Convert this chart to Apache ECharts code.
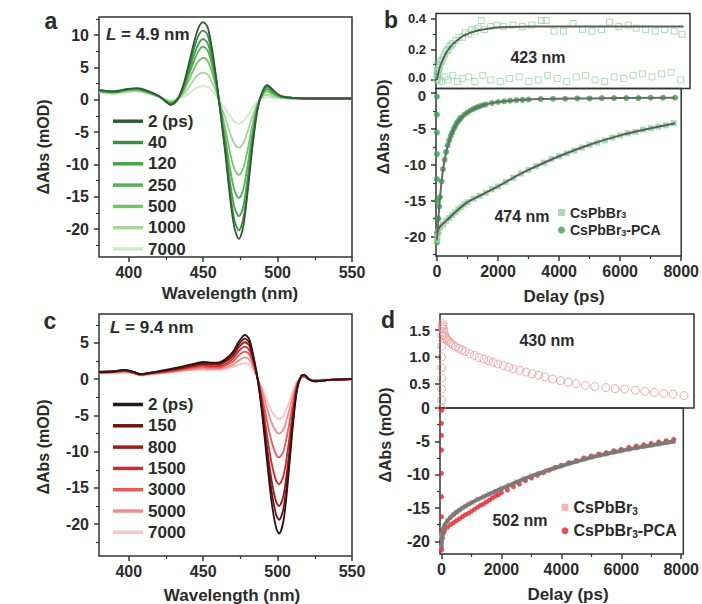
<!DOCTYPE html>
<html><head><meta charset="utf-8">
<script src="https://cdn.jsdelivr.net/npm/echarts@6/dist/echarts.min.js"></script>
<style>html,body{margin:0;padding:0;background:#fff}#c{width:702px;height:604px}</style>
</head><body><div id="c"></div>
<script>
// ---------- Panel a: spectra (L = 4.9 nm) ----------
const wlA = [380,390,400,405,410,420,425,428,432,436,440,444,447,450,453,456,459,462,465,468,471,474,477,480,483,486,489,493,497,502,510,520,535,550];
const a2    = [1.5,1.3,1.7,1.8,1.6,0.6,-0.3,-0.8,-0.2,1.8,5.2,9.0,11.2,12.0,11.2,7.8,3.0,-2.8,-8.5,-15.0,-19.8,-21.5,-19.5,-14.0,-7.5,-2.2,0.8,2.3,1.5,0.6,0.3,0.2,0.2,0.2];
const a40   = [1.5,1.3,1.7,1.7,1.5,0.6,-0.3,-0.7,-0.2,1.6,4.6,8.0,10.0,10.7,10.0,6.9,2.7,-2.6,-8.0,-14.1,-18.6,-20.2,-18.3,-13.2,-7.1,-2.1,0.7,2.1,1.4,0.6,0.3,0.2,0.2,0.2];
const a120  = [1.4,1.2,1.6,1.7,1.5,0.6,-0.2,-0.6,-0.1,1.4,4.1,7.0,8.7,9.4,8.7,6.1,2.3,-2.4,-7.1,-12.6,-16.6,-18.0,-16.4,-11.8,-6.3,-1.8,0.6,1.9,1.2,0.5,0.3,0.2,0.2,0.2];
const a250  = [1.4,1.2,1.6,1.6,1.4,0.6,-0.2,-0.5,-0.1,1.2,3.6,6.1,7.6,8.2,7.6,5.3,2.0,-2.0,-6.0,-10.6,-14.0,-15.2,-13.8,-9.9,-5.3,-1.6,0.5,1.6,1.0,0.5,0.3,0.2,0.2,0.2];
const a500  = [1.3,1.1,1.5,1.5,1.3,0.5,-0.1,-0.4,0.0,1.0,2.8,4.9,6.0,6.5,6.0,4.2,1.6,-1.5,-4.6,-8.1,-10.7,-11.6,-10.5,-7.6,-4.0,-1.2,0.4,1.3,0.8,0.4,0.2,0.2,0.2,0.2];
const a1000 = [1.2,1.0,1.3,1.4,1.2,0.5,0.0,-0.3,0.0,0.7,1.8,3.2,3.9,4.2,3.9,2.7,1.0,-1.0,-2.9,-5.1,-6.8,-7.4,-6.7,-4.8,-2.6,-0.8,0.3,0.8,0.5,0.3,0.2,0.2,0.2,0.2];
const a7000 = [1.1,0.9,1.2,1.3,1.1,0.5,0.1,-0.1,0.1,0.4,0.9,1.6,2.0,2.1,2.0,1.4,0.5,-0.5,-1.4,-2.5,-3.4,-3.7,-3.3,-2.4,-1.3,-0.4,0.1,0.4,0.3,0.2,0.2,0.2,0.2,0.2];
const aNames = ['2 (ps)','40','120','250','500','1000','7000'];
const aColors = ['#2f5a36','#3c8c45','#45a349','#55b255','#76c36c','#a3d697','#d0e9ca'];

// ---------- Panel c: spectra (L = 9.4 nm) ----------
const wlC = [380,390,397,403,408,415,425,435,445,450,455,460,465,470,474,478,481,484,487,490,493,496,499,501,504,507,510,513,516,518,521,525,535,550];
const c2    = [1.0,1.1,1.3,1.0,0.7,0.9,1.3,1.7,2.2,2.4,2.3,2.3,2.8,3.8,5.2,6.1,5.5,3.0,-0.5,-5.5,-11.5,-17.0,-20.5,-21.3,-19.5,-14.0,-7.0,-1.5,0.5,0.6,0.0,-0.3,-0.1,0.0];
const c150  = [1.0,1.1,1.3,1.0,0.7,0.9,1.2,1.6,2.1,2.2,2.2,2.2,2.6,3.5,4.8,5.6,5.0,2.7,-0.5,-5.0,-10.5,-15.5,-18.7,-19.4,-17.8,-12.8,-6.4,-1.4,0.5,0.6,0.0,-0.3,-0.1,0.0];
const c800  = [1.0,1.0,1.2,1.0,0.7,0.9,1.2,1.5,1.9,2.1,2.0,2.0,2.4,3.2,4.4,5.1,4.6,2.5,-0.4,-4.5,-9.5,-14.0,-16.9,-17.5,-16.0,-11.5,-5.8,-1.2,0.4,0.5,0.0,-0.3,-0.1,0.0];
const c1500 = [0.9,1.0,1.2,0.9,0.6,0.8,1.1,1.4,1.8,1.9,1.8,1.8,2.1,2.8,3.9,4.5,4.0,2.2,-0.3,-3.7,-7.9,-11.6,-14.0,-14.5,-13.3,-9.5,-4.8,-1.0,0.4,0.5,0.0,-0.2,-0.1,0.0];
const c3000 = [0.9,1.0,1.1,0.9,0.6,0.8,1.0,1.3,1.6,1.7,1.6,1.6,1.9,2.4,3.3,3.8,3.4,1.9,-0.2,-2.8,-5.9,-8.6,-10.4,-10.8,-9.9,-7.1,-3.6,-0.8,0.3,0.4,0.0,-0.2,-0.1,0.0];
const c5000 = [0.8,0.9,1.0,0.8,0.6,0.7,0.9,1.2,1.4,1.5,1.4,1.4,1.6,2.0,2.6,3.0,2.7,1.5,-0.1,-1.9,-4.1,-6.0,-7.2,-7.5,-6.9,-4.9,-2.5,-0.5,0.3,0.3,0.0,-0.2,-0.1,0.0];
const c7000 = [0.8,0.8,0.9,0.8,0.5,0.7,0.9,1.1,1.3,1.3,1.3,1.3,1.4,1.7,2.0,2.2,2.0,1.1,-0.1,-1.4,-3.0,-4.4,-5.3,-5.5,-5.0,-3.6,-1.8,-0.4,0.2,0.3,0.0,-0.1,0.0,0.0];
const cNames = ['2 (ps)','150','800','1500','3000','5000','7000'];
const cColors = ['#2a1515','#6b1414','#a11a1a','#d42a2a','#e65a5a','#f08d8d','#f6c6c6'];

// ---------- Panel b: kinetics (green) ----------
const b423Cs = [[0,0.0],[0,0.05],[0,0.1],[15,0.03],[30,0.06],[50,0.07],[75,0.08],[100,0.1],[130,0.12],[160,0.13],[200,0.15],[250,0.17],[300,0.19],[350,0.2],[400,0.22],[450,0.23],[500,0.24],[600,0.26],[700,0.28],[800,0.28],[900,0.31],[1000,0.3],[1100,0.33],[1200,0.32],[1300,0.34],[1400,0.39],[1500,0.33],[1700,0.35],[1900,0.36],[2100,0.35],[2400,0.36],[2700,0.35],[3000,0.36],[3300,0.39],[3450,0.39],[3700,0.32],[4000,0.32],[4300,0.37],[4600,0.33],[4900,0.32],[5200,0.33],[5450,0.38],[5750,0.35],[6050,0.36],[6300,0.34],[6600,0.33],[6900,0.32],[7200,0.33],[7500,0.32],[7750,0.3]];
const b423Pca = [[0,0.01],[30,0.03],[80,0.0],[150,-0.01],[250,0.02],[350,0.0],[500,0.03],[650,-0.01],[800,0.01],[1000,0.02],[1200,-0.01],[1450,0.03],[1700,0.0],[2000,-0.01],[2300,0.01],[2600,0.02],[2900,-0.01],[3200,0.0],[3500,0.03],[3800,0.01],[4100,-0.01],[4400,0.02],[4700,0.03],[5000,0.0],[5300,-0.01],[5600,0.02],[5900,0.01],[6200,0.03],[6500,0.04],[6800,0.02],[7100,0.04],[7400,0.05],[7700,0.0]];
const b423Fit = [[0,0],[50,0.05],[100,0.09],[200,0.14],[300,0.18],[400,0.21],[500,0.235],[650,0.26],[800,0.285],[1000,0.305],[1200,0.32],[1500,0.333],[2000,0.345],[3000,0.35],[7800,0.35]];
const b474Cs = [[0,-20.5],[20,-20.0],[50,-19.3],[100,-18.7],[200,-18.3],[300,-17.8],[400,-17.4],[500,-17.0],[600,-16.6],[700,-16.2],[800,-15.9],[900,-15.5],[1000,-15.2],[1200,-14.7],[1400,-14.3],[1600,-13.9],[1800,-13.4],[2000,-13.0],[2250,-12.4],[2500,-11.8],[2750,-11.2],[3000,-10.7],[3250,-10.2],[3500,-9.7],[3750,-9.2],[4000,-8.8],[4250,-8.4],[4500,-8.0],[4750,-7.6],[5000,-7.2],[5250,-6.9],[5500,-6.6],[5750,-6.2],[6000,-5.9],[6250,-5.6],[6500,-5.4],[6750,-5.1],[7000,-4.9],[7250,-4.7],[7500,-4.5],[7750,-4.2]];
const b474CsFit = [[0,-19.5],[100,-18.6],[300,-17.8],[600,-16.6],[1000,-15.2],[1500,-14.1],[2000,-13.0],[2500,-11.8],[3000,-10.7],[4000,-8.8],[5000,-7.2],[6000,-5.9],[7000,-4.9],[7800,-4.2]];
const b474Pca = [[0,-0.5],[0,-3.0],[0,-5.5],[0,-8.5],[0,-12.0],[0,-15.0],[0,-17.5],[0,-19.5],[0,-20.8],[25,-19.5],[50,-17.5],[75,-15.8],[100,-14.5],[150,-12.3],[200,-10.6],[250,-9.3],[300,-8.2],[350,-7.3],[400,-6.6],[450,-6.0],[500,-5.5],[550,-5.0],[600,-4.6],[650,-4.2],[700,-3.9],[750,-3.6],[800,-3.4],[900,-3.0],[1000,-2.7],[1100,-2.4],[1200,-2.2],[1300,-2.0],[1400,-1.85],[1500,-1.7],[1600,-1.6],[1800,-1.4],[2000,-1.25],[2200,-1.15],[2400,-1.05],[2600,-1.0],[2800,-0.95],[3000,-0.9],[3400,-0.85],[3800,-0.8],[4200,-0.8],[4600,-0.75],[5000,-0.75],[5400,-0.7],[5800,-0.7],[6200,-0.7],[6600,-0.7],[7000,-0.65],[7400,-0.65],[7800,-0.65]];
const b474PcaFit = [[0,-20.5],[50,-17.5],[100,-14.6],[200,-10.7],[300,-8.3],[400,-6.7],[500,-5.5],[700,-3.9],[1000,-2.7],[1500,-1.7],[2000,-1.25],[3000,-0.9],[5000,-0.75],[7800,-0.65]];

// ---------- Panel d: kinetics (red) ----------
const d430Cs = [[0,0.05],[0,0.2],[0,0.4],[0,0.6],[0,0.8],[0,1.0],[0,1.2],[10,1.4],[20,1.55],[30,1.62],[40,1.58],[60,1.52],[80,1.46],[100,1.41],[130,1.37],[160,1.34],[200,1.31],[250,1.28],[300,1.25],[370,1.22],[450,1.19],[550,1.16],[650,1.13],[750,1.1],[900,1.06],[1050,1.03],[1200,0.99],[1350,0.96],[1500,0.93],[1650,0.9],[1800,0.87],[1975,0.84],[2150,0.81],[2300,0.78],[2500,0.75],[2700,0.72],[2900,0.69],[3100,0.66],[3300,0.63],[3550,0.59],[3800,0.56],[4050,0.53],[4300,0.5],[4600,0.47],[4900,0.45],[5250,0.43],[5550,0.41],[5850,0.4],[6200,0.38],[6500,0.36],[6800,0.34],[7100,0.32],[7400,0.31],[7750,0.28]];
const d502Cs = [[0,-21.0],[0,-19.5],[20,-19.0],[50,-18.3],[100,-17.6],[200,-16.9],[300,-16.4],[400,-16.0],[500,-15.6],[600,-15.3],[700,-15.0],[800,-14.7],[900,-14.4],[1000,-14.2],[1200,-13.7],[1400,-13.3],[1600,-12.9],[1800,-12.5],[2000,-12.1],[2250,-11.6],[2500,-11.1],[2750,-10.6],[3000,-10.2],[3250,-9.8],[3500,-9.4],[3750,-9.0],[4000,-8.7],[4250,-8.3],[4500,-8.0],[4750,-7.7],[5000,-7.4],[5250,-7.1],[5500,-6.9],[5750,-6.6],[6000,-6.4],[6250,-6.2],[6500,-6.0],[6750,-5.8],[7000,-5.6],[7250,-5.4],[7500,-5.2],[7750,-5.0]];
const d502CsFit = [[0,-21.0],[30,-19.0],[100,-17.6],[300,-16.4],[600,-15.3],[1000,-14.2],[1500,-13.1],[2000,-12.1],[3000,-10.2],[4000,-8.7],[5000,-7.4],[6000,-6.4],[7000,-5.6],[7800,-5.0]];
const d502Pca = [[0,-0.3],[0,-2.3],[0,-4.1],[0,-6.3],[0,-9.8],[0,-13.3],[0,-16.3],[0,-18.3],[0,-19.8],[0,-21.3],[30,-19.5],[60,-18.8],[100,-18.4],[200,-17.9],[300,-17.5],[400,-17.2],[500,-16.9],[600,-16.6],[700,-16.3],[800,-16.0],[900,-15.8],[1000,-15.5],[1100,-15.2],[1200,-14.9],[1300,-14.6],[1400,-14.4],[1500,-14.1],[1600,-13.8],[1700,-13.5],[1800,-13.2],[1900,-13.0],[2000,-12.7],[2200,-12.3],[2400,-11.8],[2600,-11.4],[2800,-10.9],[3000,-10.5],[3200,-10.1],[3400,-9.7],[3600,-9.3],[3800,-8.9],[4000,-8.6],[4250,-8.2],[4500,-7.9],[4750,-7.5],[5000,-7.2],[5250,-6.9],[5500,-6.7],[5750,-6.4],[6000,-6.2],[6250,-5.9],[6500,-5.7],[6750,-5.5],[7000,-5.3],[7250,-5.1],[7500,-4.9],[7750,-4.7]];

// ---------- tick values ----------
const wlMajor = [400,450,500,550], wlMinor = [425,475,525];
const tMajor = [0,2000,4000,6000,8000], tMinor = [1000,3000,5000,7000];
const aYMajor = [-20,-15,-10,-5,0,5,10], aYMinor = [-22.5,-17.5,-12.5,-7.5,-2.5,2.5,7.5,12.5];
const cYMajor = [-20,-15,-10,-5,0,5], cYMinor = [-22.5,-17.5,-12.5,-7.5,-2.5,2.5,7.5];
const bTopMajor = [0,0.2,0.4], bTopMinor = [0.1,0.3];
const bBotMajor = [-20,-15,-10,-5,0], bBotMinor = [-22.5,-17.5,-12.5,-7.5,-2.5];
const dTopMajor = [0.5,1.0,1.5];
const dBotMajor = [-20,-15,-10,-5,0], dBotMinor = [-17.5,-12.5,-7.5,-2.5];

// ---------- build ----------
const FONT = '"Liberation Sans", Arial, Helvetica, sans-serif';
const TXT = '#2b2b2b', AX = '#333';
const grids = [], xAxes = [], yAxes = [], series = [];
function addGrid(l, t, w, h) {
  grids.push({left:l, top:t, width:w, height:h, show:true, borderColor:AX, borderWidth:1.5, backgroundColor:'rgba(0,0,0,0)'});
  return grids.length - 1;
}
function addAxis(list, gi, pos, min, max, major, minor, opt) {
  opt = opt || {};
  const base = {type:'value', gridIndex:gi, position:pos, min:min, max:max, axisLine:{show:false, onZero:false}, splitLine:{show:false}};
  const idx = list.length;
  const lab = {show:!opt.noLabel, customValues:major, margin:opt.margin || 9, fontFamily:FONT, fontSize:opt.size || 16, fontWeight:'bold', color:TXT,
               formatter: opt.fmt || (v => String(v))};
  if (opt.lh) lab.lineHeight = opt.lh;
  if (opt.rich) lab.rich = opt.rich;
  list.push(Object.assign({}, base, {
    show: !opt.hidden,
    axisTick:{show:!opt.hidden, customValues:major, length:5, lineStyle:{color:AX, width:1.5}},
    axisLabel: lab
  }));
  if (minor && minor.length) list.push(Object.assign({}, base, {
    axisTick:{show:true, customValues:minor, length:3, lineStyle:{color:AX, width:1.2}},
    axisLabel:{show:false}
  }));
  return idx;
}
const f1 = v => v.toFixed(1);
// the two zero labels of panel b sit very close: nudge them apart slightly
const bTopFmt = v => v === 0 ? '{up|0.0}' : v.toFixed(1);
const bTopRich = {up:{fontFamily:FONT, fontSize:13, fontWeight:'bold', color:TXT, lineHeight:12, padding:[0,0,5,0]}};
const bBotFmt = v => v === 0 ? '{dn|0}' : String(v);
const bBotRich = {dn:{fontFamily:FONT, fontSize:15, fontWeight:'bold', color:TXT, lineHeight:13, padding:[4,0,0,0]}};

// panel a
const gA = addGrid(99, 17, 253, 240);
const xA = addAxis(xAxes, gA, 'bottom', 380, 550, wlMajor, wlMinor, {margin:7});
const yA = addAxis(yAxes, gA, 'left', -24.3, 12.8, aYMajor, aYMinor, {margin:10});
// panel b
const gBt = addGrid(436, 13.5, 254, 75);
const gBb = addGrid(436, 88.5, 254, 167.5);
const xBt = addAxis(xAxes, gBt, 'bottom', -30, 8000, tMajor, [], {hidden:true, noLabel:true});
const yBt = addAxis(yAxes, gBt, 'left', -0.056, 0.436, bTopMajor, bTopMinor, {margin:10, fmt:bTopFmt, rich:bTopRich, size:13, lh:12});
const xBb = addAxis(xAxes, gBb, 'bottom', -30, 8000, tMajor, tMinor, {margin:7});
const yBb = addAxis(yAxes, gBb, 'left', -22.69, 0.63, bBotMajor, bBotMinor, {margin:10, fmt:bBotFmt, rich:bBotRich, size:15, lh:13});
// panel c
const gC = addGrid(99, 314, 253, 242);
const xC = addAxis(xAxes, gC, 'bottom', 380, 550, wlMajor, wlMinor, {margin:7});
const yC = addAxis(yAxes, gC, 'left', -24.4, 9.0, cYMajor, cYMinor, {margin:10});
// panel d
const gDt = addGrid(440, 314, 254, 94);
const gDb = addGrid(440, 408, 254, 146);
const xDt = addAxis(xAxes, gDt, 'bottom', -50, 8070, tMajor, [], {hidden:true, noLabel:true});
const yDt = addAxis(yAxes, gDt, 'left', 0.05, 1.8, dTopMajor, [], {margin:10, fmt:f1, size:15});
const xDb = addAxis(xAxes, gDb, 'bottom', -50, 8070, tMajor, tMinor, {margin:7});
const yDb = addAxis(yAxes, gDb, 'left', -21.9, 0, dBotMajor, dBotMinor, {margin:10});

// spectra
const aData = [a2,a40,a120,a250,a500,a1000,a7000];
for (let i = aData.length - 1; i >= 0; i--) {
  series.push({type:'line', name:aNames[i], xAxisIndex:xA, yAxisIndex:yA, symbol:'none', showSymbol:false, smooth:0.3,
    data: wlA.map((w, j) => [w, aData[i][j]]), lineStyle:{color:aColors[i], width:1.8}, itemStyle:{color:aColors[i]}});
}
const cData = [c2,c150,c800,c1500,c3000,c5000,c7000];
for (let i = cData.length - 1; i >= 0; i--) {
  series.push({type:'line', name:'c:' + cNames[i], xAxisIndex:xC, yAxisIndex:yC, symbol:'none', showSymbol:false, smooth:0.3,
    data: wlC.map((w, j) => [w, cData[i][j]]), lineStyle:{color:cColors[i], width:1.8}, itemStyle:{color:cColors[i]}});
}
function scat(name, xi, yi, data, symbol, size, color, hollow) {
  return {type:'scatter', name:name, xAxisIndex:xi, yAxisIndex:yi, data:data, symbol:symbol, symbolSize:size, clip:false,
    itemStyle: hollow ? {color:'rgba(255,255,255,0)', borderColor:color, borderWidth:1} : {color:color}};
}
function fit(xi, yi, data, color, width) {
  return {type:'line', name:'fit', xAxisIndex:xi, yAxisIndex:yi, data:data, symbol:'none', showSymbol:false, smooth:0.4,
    lineStyle:{color:color, width:width}};
}
// panel b series
series.push(scat('b423Pca', xBt, yBt, b423Pca, 'rect', 6, '#9ad8a6', true));
series.push(scat('b423Cs', xBt, yBt, b423Cs, 'rect', 6, '#8fd49c', true));
series.push(fit(xBt, yBt, b423Fit, '#5d5d5d', 2));
series.push(scat('bPca', xBb, yBb, b474Pca, 'circle', 6, '#3aa34f', false));
series.push(fit(xBb, yBb, b474PcaFit, '#6a6a6a', 2));
series.push(scat('bCs', xBb, yBb, b474Cs, 'rect', 6, '#8fd39c', false));
series.push(fit(xBb, yBb, b474CsFit, '#5d5d5d', 2));
// panel d series
series.push(scat('d430Cs', xDt, yDt, d430Cs, 'circle', 8, '#f09494', true));
series.push(scat('dCs', xDb, yDb, d502Cs, 'rect', 5, '#f4a5a5', false));
series.push(fit(xDb, yDb, d502CsFit, '#7a7a7a', 4));
series.push(scat('dPca', xDb, yDb, d502Pca, 'circle', 5, '#e2242a', false));

const legText = {fontFamily:FONT, fontSize:17, fontWeight:'bold', color:TXT, lineHeight:16};
function subRich(sz, lh) {
  return {n:{fontFamily:FONT, fontSize:sz, fontWeight:'bold', color:TXT, lineHeight:lh},
          s:{fontFamily:FONT, fontSize:Math.round(sz * 0.65), fontWeight:'bold', color:TXT, lineHeight:Math.round(sz * 0.65), verticalAlign:'bottom'}};
}
function subLegend(name, left, top, label, sz, lh) {
  return {show:true, selectedMode:false, left:left, top:top, padding:0, data:[name], itemWidth:7, itemHeight:7,
    formatter: () => label, textStyle:{rich:subRich(sz, lh), fontFamily:FONT}};
}
const legends = [
  {show:true, selectedMode:false, orient:'vertical', left:113, top:112.7, padding:0, itemWidth:30, itemHeight:3.5, itemGap:4.3, icon:'rect',
   data:aNames, textStyle:legText},
  {show:true, selectedMode:false, orient:'vertical', left:113, top:396, padding:0, itemWidth:30, itemHeight:3.5, itemGap:4.3, icon:'rect',
   data:cNames.map(n => 'c:' + n), formatter: n => n.slice(2), textStyle:legText},
  subLegend('bCs', 558, 205.5, '{n|CsPbBr}{s|3}', 14, 14),
  subLegend('bPca', 558, 223, '{n|CsPbBr}{s|3}{n|-PCA}', 14, 14),
  subLegend('dCs', 561.5, 499.3, '{n|CsPbBr}{s|3}', 16, 18),
  subLegend('dPca', 561.5, 522.7, '{n|CsPbBr}{s|3}{n|-PCA}', 16, 18)
];

function txt(x, y, text, size, extra) {
  return {type:'text', x:x, y:y, silent:true, style:Object.assign({text:text, fontFamily:FONT, fontSize:size, fontWeight:'bold', fill:TXT, align:'center', verticalAlign:'middle'}, extra || {})};
}
function rot(o) { o.rotation = Math.PI / 2; return o; }
const Lrich = {i:{fontFamily:FONT, fontSize:17, fontWeight:'bold', fontStyle:'italic', fill:TXT}, r:{fontFamily:FONT, fontSize:17, fontWeight:'bold', fill:TXT}};
const graphics = [
  txt(51, 21, 'a', 23), txt(391, 20, 'b', 23), txt(50, 321, 'c', 23), txt(388, 320, 'd', 23),
  txt(106, 34, '{i|L}{r| = 4.9 nm}', 17, {align:'left', rich:Lrich}),
  txt(110, 327, '{i|L}{r| = 9.4 nm}', 17, {align:'left', rich:Lrich}),
  txt(538, 57, '423 nm', 16), txt(522, 216, '474 nm', 16),
  txt(547, 340, '430 nm', 16), txt(520, 520, '502 nm', 16),
  txt(230, 293, 'Wavelength (nm)', 17), txt(232, 595, 'Wavelength (nm)', 17),
  txt(564, 296, 'Delay (ps)', 17), txt(568, 594, 'Delay (ps)', 17),
  rot(txt(43, 147, 'ΔAbs (mOD)', 16)), rot(txt(43, 447, 'ΔAbs (mOD)', 16)),
  rot(txt(383, 127, 'ΔAbs (mOD)', 16)), rot(txt(385, 435, 'ΔAbs (mOD)', 16))
];

const chart = echarts.init(document.getElementById('c'), null, {renderer:'svg', width:702, height:604});
chart.setOption({
  backgroundColor:'#fff', animation:false,
  grid:grids, xAxis:xAxes, yAxis:yAxes, series:series, legend:legends, graphic:graphics
});
</script></body></html>
